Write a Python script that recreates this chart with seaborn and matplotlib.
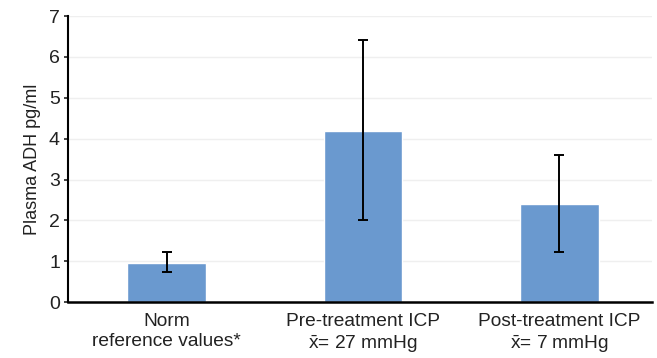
import numpy as np
import pandas as pd
import matplotlib
matplotlib.use('Agg')
import matplotlib.pyplot as plt
import seaborn as sns

sns.set_style('white')
plt.rcParams['font.family'] = ['Liberation Sans', 'DejaVu Sans']
plt.rcParams['mathtext.fontset'] = 'custom'
plt.rcParams['mathtext.rm'] = 'Liberation Sans'
plt.rcParams['mathtext.it'] = 'Liberation Sans'

# data
groups = ['Norm\nreference values*',
          'Pre-treatment ICP\n$\\bar{\\mathrm{x}}$= 27 mmHg',
          'Post-treatment ICP\n$\\bar{\\mathrm{x}}$= 7 mmHg']
adh_mean = [0.97, 4.2, 2.4]
err_low = [0.75, 2.0, 1.22]
err_high = [1.22, 6.42, 3.6]

df = pd.DataFrame({'group': groups, 'adh': adh_mean})

fig = plt.figure(figsize=(6.57, 3.58), dpi=100)
ax = fig.add_axes([0.104, 0.156, 0.888, 0.799])

sns.barplot(data=df, x='group', y='adh', color='#6a99cf', saturation=1,
            width=0.4, ax=ax)

# asymmetric error bars
lower = np.array(adh_mean) - np.array(err_low)
upper = np.array(err_high) - np.array(adh_mean)
ax.errorbar(np.arange(len(groups)), adh_mean, yerr=[lower, upper],
            fmt='none', ecolor='black', elinewidth=1.4, capsize=3.5,
            capthick=1.4, zorder=3)

ax.set_ylim(0, 7)
ax.set_xlim(-0.5, 2.47)
ax.set_yticks(range(0, 8))
ax.yaxis.grid(True, color='#efefef', linewidth=1)
ax.set_axisbelow(True)

ax.set_xlabel('')
ax.set_ylabel('Plasma ADH pg/ml', fontsize=13, color='#222222', labelpad=6)
ax.tick_params(axis='y', labelsize=14, length=3, width=1.2, left=True,
               colors='#222222', pad=3)
ax.tick_params(axis='x', labelsize=13.8, length=0, pad=8, colors='#222222')

for side in ['top', 'right']:
    ax.spines[side].set_visible(False)
ax.spines['left'].set_color('black')
ax.spines['left'].set_linewidth(1.5)
ax.spines['bottom'].set_color('black')
ax.spines['bottom'].set_linewidth(1.8)

fig.savefig('out.png', dpi=100)
